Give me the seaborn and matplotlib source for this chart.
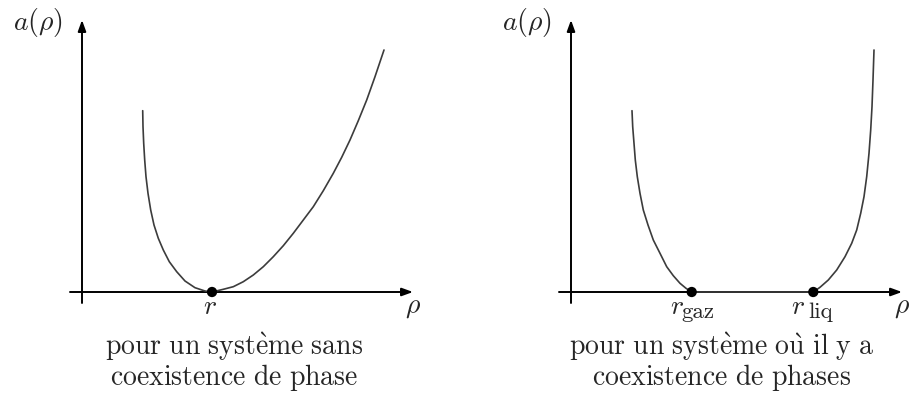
import matplotlib
matplotlib.use("Agg")
import matplotlib.pyplot as plt
import seaborn as sns
import pandas as pd

# Free-energy curves a(rho), read as (rho, a) pairs in panel units
left_rho = [60.7, 61.0, 61.7, 62.7, 64.0, 66.0, 68.7, 72.0, 76.3, 81.3,
            87.3, 94.7, 103.0, 113.0, 123.0, 130.0,
            141.3, 151.3, 161.3, 171.3, 181.3, 191.3, 201.3, 211.3, 221.3,
            231.3, 241.3, 251.3, 259.7, 268.0, 276.3, 284.7, 293.0, 302.0]
left_a = [181.3, 165.3, 148.7, 132.0, 115.3, 98.7, 82.0, 67.0, 53.7, 42.0,
          30.3, 20.3, 11.0, 4.3, 1.0, 0.0,
          2.7, 5.3, 10.3, 17.0, 25.3, 35.3, 46.3, 58.7, 72.0,
          85.3, 101.3, 118.7, 134.7, 152.0, 171.3, 192.0, 215.3, 242.0]

right_rho = [61.0, 61.7, 63.0, 64.3, 66.3, 69.0, 72.3, 77.0, 82.3, 89.0,
             95.7, 102.3, 109.0, 115.0, 120.7,
             242.3, 249.0, 257.3, 265.7, 274.0, 280.7, 285.7, 289.7, 293.0,
             295.7, 298.0, 299.7, 301.0, 302.0, 303.0]
right_a = [181.3, 165.3, 148.7, 132.0, 115.3, 98.7, 82.0, 67.0, 52.0, 38.7,
           25.3, 16.3, 8.7, 3.7, 0.0,
           0.0, 4.7, 12.0, 22.0, 35.3, 48.7, 62.0, 78.7, 95.3,
           115.3, 138.7, 162.0, 185.3, 212.0, 242.0]

# Marked densities on the rho axis and their subscripts
left_points = [130.0]
left_point_subs = [""]
right_points = [120.7, 242.3]
right_point_subs = ["gaz", "liq"]

left_caption = [r"$\mathrm{pour\ un\ syst\grave{e}me\ sans}$",
                r"$\mathrm{coexistence\ de\ phase}$"]
right_caption = [r"$\mathrm{pour\ un\ syst\grave{e}me\ o\grave{u}\ il\ y\ a}$",
                 r"$\mathrm{coexistence\ de\ phases}$"]

sns.set_theme(style="white")
plt.rcParams["mathtext.fontset"] = "cm"
plt.rcParams["font.family"] = ["DejaVu Serif"]

CURVE = "#3c3c3c"
FS = 20
FS_SUB = 16.5

fig = plt.figure(figsize=(9.10, 3.96), dpi=100)
ax_l = fig.add_axes([0.0, 0.0, 0.5, 1.0])
ax_r = fig.add_axes([0.5, 0.0, 0.5, 1.0])


def draw_panel(ax, rho, a, pts, subs, caption, xlim, cap_x):
    ax.set_xlim(*xlim)
    ax.set_ylim(-104, 292)
    ax.set_axis_off()
    # coordinate axes with arrow heads
    arrow = dict(arrowstyle="-|>,head_length=0.55,head_width=0.2",
                 color="black", lw=1.4, shrinkA=0, shrinkB=0)
    ax.annotate("", xy=(331, 0), xytext=(-12, 0), arrowprops=arrow)
    ax.annotate("", xy=(0, 272), xytext=(0, -11), arrowprops=arrow)
    df = pd.DataFrame({"rho": rho, "a": a})
    sns.lineplot(data=df, x="rho", y="a", sort=False, estimator=None,
                 color=CURVE, lw=1.2, ax=ax, zorder=3,
                 solid_joinstyle="round", solid_capstyle="round")
    sns.scatterplot(x=pts, y=[0] * len(pts), color="black", s=55,
                    edgecolor="none", ax=ax, zorder=4)
    for x, sub in zip(pts, subs):
        if sub:
            ax.text(x - 22, -22, r"$r$", fontsize=FS, ha="left", va="baseline")
            ax.text(x - 10 if sub == "gaz" else x - 5, -26, sub,
                    fontsize=FS_SUB, ha="left", va="baseline",
                    family="cmr10")
        else:
            ax.text(x - 2, -22, r"$r$", fontsize=FS, ha="center", va="baseline")
    ax.text(-44, 262, r"$a(\rho)$", fontsize=FS, ha="center", va="baseline")
    ax.text(331, -21, r"$\rho$", fontsize=FS, ha="center", va="baseline")
    ax.text(cap_x, -63, caption[0], fontsize=FS, ha="center", va="baseline")
    ax.text(cap_x, -93, caption[1], fontsize=FS, ha="center", va="baseline")


draw_panel(ax_l, left_rho, left_a, left_points, left_point_subs,
           left_caption, (-82, 373), 152)
draw_panel(ax_r, right_rho, right_a, right_points, right_point_subs,
           right_caption, (-116, 339), 151)

fig.savefig("out.png", dpi=100)
